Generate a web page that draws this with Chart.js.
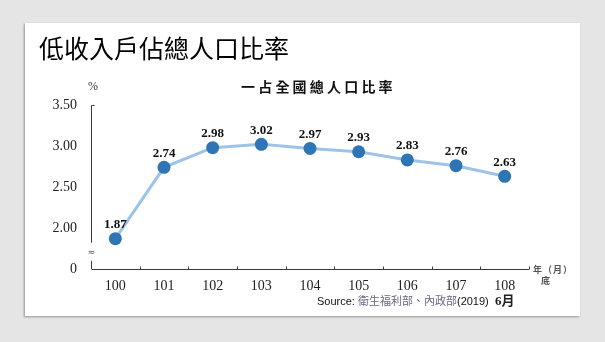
<!DOCTYPE html>
<html lang="zh-Hant">
<head>
<meta charset="utf-8">
<title>低收入戶佔總人口比率</title>
<script src="https://cdn.jsdelivr.net/npm/chart.js@4/dist/chart.umd.min.js"></script>
<style>
  html, body { margin: 0; padding: 0; }
  body { width: 605px; height: 342px; background: #e6e5e5; position: relative; overflow: hidden; }
  #card { position: absolute; left: 25px; top: 23px; width: 555px; height: 293px; background: #fff;
          box-shadow: -1px 1px 2px rgba(0,0,0,0.35); }
  canvas { position: absolute; left: 0; top: 0; }
  .t { position: absolute; white-space: nowrap; line-height: 1; }
  #title { left: 39px; top: 29px; font: 25px "Noto Sans CJK TC", sans-serif; color: #000; }
  #subtitle { left: 241px; top: 76px; font: bold 14px "Noto Sans CJK TC", sans-serif; letter-spacing: 3.2px; color: #111; }
  #unit { left: 88px; top: 79px; font: 12px "Liberation Serif", serif; color: #333; }
  #xunit { left: 533px; top: 263px; font: bold 9px "Noto Sans CJK TC", sans-serif; color: #555; letter-spacing: 1px; }
  #xunit2 { left: 541px; top: 274px; font: bold 9px "Noto Sans CJK TC", sans-serif; color: #555; }
  #source { left: 317px; top: 292px; font: 11px "Liberation Sans", sans-serif; color: #111; }
  #source .org { font-family: "Noto Sans CJK TC", sans-serif; color: #6f6585; }
  #month { left: 495px; top: 290px; font: bold 13px "Liberation Serif", "Noto Sans CJK TC", serif; color: #222; }
</style>
</head>
<body>
<div id="card"></div>
<canvas id="c" width="605" height="342"></canvas>
<div class="t" id="title">低收入戶佔總人口比率</div>
<div class="t" id="subtitle">一占全國總人口比率</div>
<div class="t" id="unit">%</div>
<div class="t" id="xunit">年（月）</div>
<div class="t" id="xunit2">底</div>
<div class="t" id="source">Source: <span class="org">衛生福利部、內政部</span>(2019)</div>
<div class="t" id="month">6月</div>
<script>
// Year-end (民國) categories and the share of low-income households in the total population (%)
const years = ['100', '101', '102', '103', '104', '105', '106', '107', '108'];
const ratios = [1.87, 2.74, 2.98, 3.02, 2.97, 2.93, 2.83, 2.76, 2.63];
// Value-axis ticks; the lowest one sits below the axis break and reads "0"
const yTicks = [1.5, 2.0, 2.5, 3.0, 3.5];
const yBreakBase = 1.5;

const AXIS_COLOR = '#3a3a3a';

// Broken value axis, category axis with inward boundary ticks, and value labels
const axesAndLabels = {
  id: 'axesAndLabels',
  beforeDatasetsDraw(chart) {
    const { ctx, chartArea, scales } = chart;
    const ys = scales.y, xs = scales.x;
    const x0 = Math.round(chartArea.left) + 0.5;
    const yTop = ys.getPixelForValue(3.5);
    const yBottom = ys.getPixelForValue(yBreakBase);
    const breakHi = ys.getPixelForValue(1.82);
    const breakLo = ys.getPixelForValue(1.6);
    ctx.save();
    ctx.strokeStyle = AXIS_COLOR;
    ctx.lineWidth = 1;
    ctx.beginPath();
    // upper segment of the value axis with its top tick
    ctx.moveTo(x0 + 3, Math.round(yTop) + 0.5);
    ctx.lineTo(x0, Math.round(yTop) + 0.5);
    ctx.lineTo(x0, breakHi);
    // lower segment below the break
    ctx.moveTo(x0, breakLo);
    ctx.lineTo(x0, yBottom);
    // category axis
    const yb = Math.round(yBottom) + 0.5;
    ctx.moveTo(x0, yb);
    ctx.lineTo(chartArea.right, yb);
    ctx.stroke();
    // boundary ticks between categories, pointing up
    ctx.beginPath();
    for (let i = 0; i < years.length; i++) {
      const xb = i < years.length - 1
        ? (xs.getPixelForValue(i) + xs.getPixelForValue(i + 1)) / 2
        : chartArea.right;
      ctx.moveTo(Math.round(xb) + 0.5, yb);
      ctx.lineTo(Math.round(xb) + 0.5, yb - 3);
    }
    ctx.stroke();
    // break mark
    ctx.fillStyle = '#555';
    ctx.font = '9px "DejaVu Sans", sans-serif';
    ctx.textAlign = 'center';
    ctx.textBaseline = 'middle';
    ctx.fillText('≈', x0, (breakHi + breakLo) / 2 + 1);
    ctx.restore();
  },
  afterDatasetsDraw(chart) {
    const { ctx } = chart;
    const meta = chart.getDatasetMeta(0);
    ctx.save();
    ctx.fillStyle = '#111';
    ctx.font = 'bold 13px "Liberation Serif", serif';
    ctx.textAlign = 'center';
    ctx.textBaseline = 'middle';
    meta.data.forEach((pt, i) => {
      ctx.fillText(ratios[i].toFixed(2), pt.x, pt.y - 14);
    });
    ctx.restore();
  }
};

new Chart(document.getElementById('c'), {
  type: 'line',
  data: {
    labels: years,
    datasets: [{
      data: ratios,
      borderColor: '#9dc3e6',
      borderWidth: 3,
      tension: 0,
      pointRadius: 6.5,
      pointHoverRadius: 6.5,
      pointBackgroundColor: '#2e75b6',
      pointBorderColor: '#2e75b6',
      pointBorderWidth: 0
    }]
  },
  options: {
    responsive: false,
    animation: false,
    events: [],
    layout: { padding: { left: 0, right: 76, top: 105, bottom: 0 } },
    plugins: { legend: { display: false }, tooltip: { enabled: false } },
    scales: {
      x: {
        type: 'category',
        offset: true,
        grid: { display: false, drawTicks: false },
        border: { display: false },
        ticks: { color: '#222', font: { family: '"Liberation Serif", serif', size: 14 }, padding: 9, maxRotation: 0 },
        afterFit(s) { s.height = 73; }
      },
      y: {
        min: yBreakBase,
        max: 3.5,
        grid: { display: false, drawTicks: false },
        border: { display: false },
        afterBuildTicks(s) { s.ticks = yTicks.map(v => ({ value: v })); },
        ticks: {
          color: '#222',
          font: { family: '"Liberation Serif", serif', size: 14 },
          padding: 14,
          callback: v => (v === yBreakBase ? '0' : Number(v).toFixed(2))
        },
        afterFit(s) { s.width = 91; }
      }
    }
  },
  plugins: [axesAndLabels]
});
</script>
</body>
</html>
